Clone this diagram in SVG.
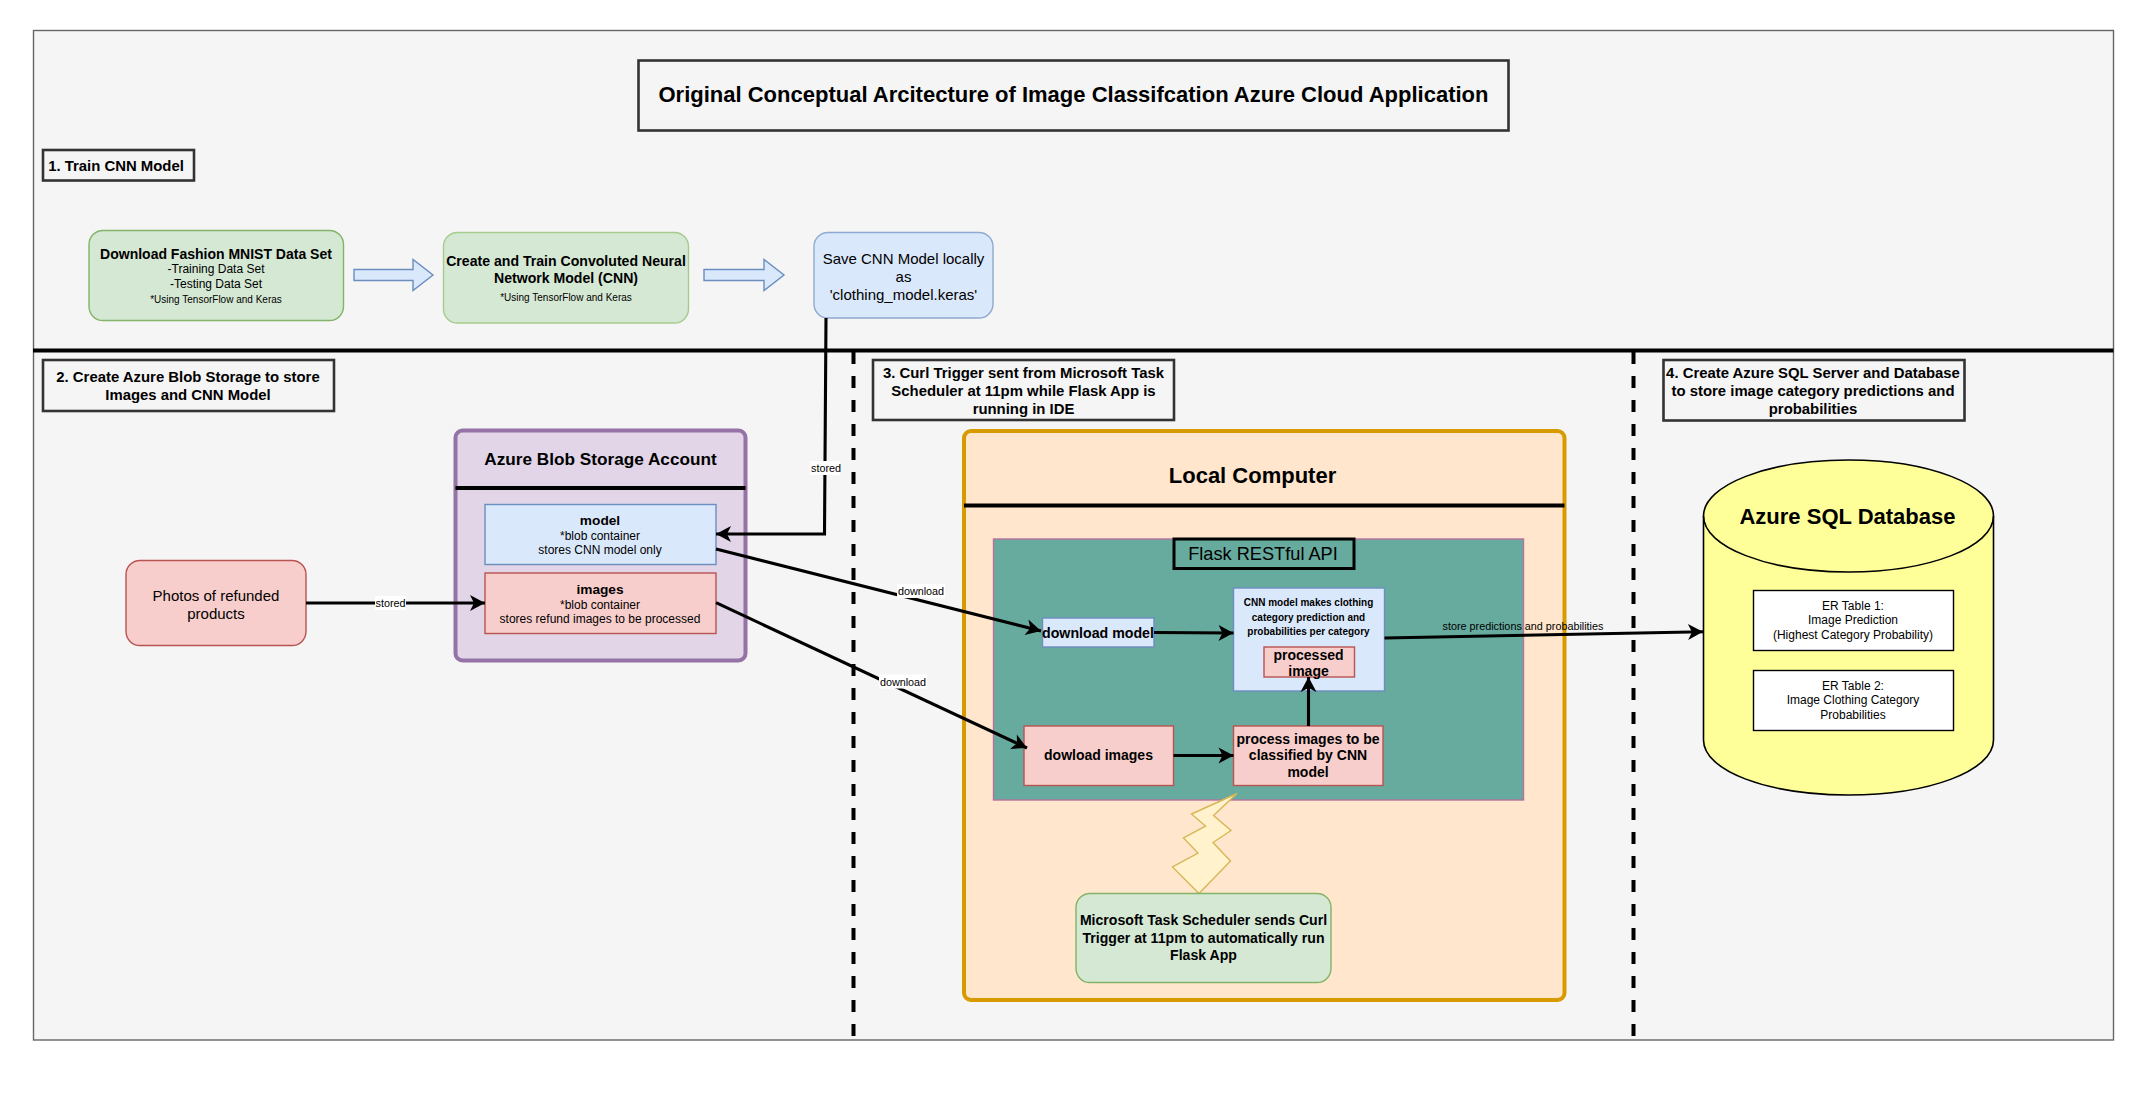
<svg xmlns="http://www.w3.org/2000/svg" width="2146" height="1111" viewBox="0 0 2146 1111">
<style>
text{font-family:"Liberation Sans",Arial,sans-serif;fill:#000;text-anchor:middle;dominant-baseline:central}
.b{font-weight:bold}
.sec{font-size:14.9px;font-weight:bold}
.hd{fill:#f5f5f5;stroke:#333;stroke-width:2.6}
.g{fill:#d5e8d4;stroke:#82b366;stroke-width:1.4}
.bl{fill:#dae8fc;stroke:#6c8ebf;stroke-width:1.4}
.r{fill:#f8cecc;stroke:#b85450;stroke-width:1.4}
.ln{fill:none;stroke:#000;stroke-width:3.100}
.arr{marker-end:url(#ah)}
.div{fill:none;stroke:#000;stroke-width:4}
.dash{fill:none;stroke:#000;stroke-width:4;stroke-dasharray:12 12}
.lbl{font-size:10.8px}
.s10{font-size:10px}
.s12{font-size:12px}
.w{fill:#fff;stroke:#000;stroke-width:1.4}
</style>
<defs>
<marker id="ah" markerUnits="userSpaceOnUse" markerWidth="18" markerHeight="20" refX="15" refY="8" orient="auto" overflow="visible"><path d="M0 0L15 8L0 16L4 8Z" fill="#000"/></marker>
</defs>
<g id="panel">
<rect x="33.500" y="30.500" width="2080" height="1009.500" fill="#f5f5f5" stroke="#666" stroke-width="1.400"/>
</g>
<g id="title"><rect class="hd" x="638.500" y="60.500" width="870" height="70"/><text class="b" x="1073.500" y="94.500" font-size="22">Original Conceptual Arcitecture of Image Classifcation Azure Cloud Application</text></g>
<g id="sec1"><rect class="hd" x="43" y="150" width="151" height="30.500"/><text class="sec" x="116" y="165.500">1. Train CNN Model</text></g>
<g id="download-data"><rect class="g" x="89" y="230.500" width="254.500" height="90" rx="14"/>
<text class="b" x="216" y="254" font-size="14">Download Fashion MNIST Data Set</text>
<text class="s12" x="216" y="268.500">-Training Data Set</text>
<text class="s12" x="216" y="283.500">-Testing Data Set</text>
<text class="s10" x="216" y="299">*Using TensorFlow and Keras</text></g>
<g id="train-model"><rect x="443.500" y="232.500" width="245" height="90.500" rx="14" fill="#d5e8d4" stroke="#a6cb8f" stroke-width="1.400"/>
<text class="b" x="566" y="261" font-size="14.100">Create and Train Convoluted Neural</text>
<text class="b" x="566" y="278" font-size="14.100">Network Model (CNN)</text>
<text class="s10" x="566" y="297">*Using TensorFlow and Keras</text></g>
<g id="save-model"><rect x="814" y="232.500" width="179" height="85.500" rx="14" fill="#dae8fc" stroke="#8fa9d0" stroke-width="1.400"/>
<text x="903.500" y="258" font-size="15">Save CNN Model locally</text>
<text x="903.500" y="276" font-size="15">as</text>
<text x="903.500" y="294.500" font-size="15">'clothing_model.keras'</text></g>
<g id="arrow-a"><path class="bl" d="M354 269.500H413V259.500L433 275L413 290.500V280.500H354Z"/></g>
<g id="arrow-b"><path class="bl" d="M704 269.500H764V259.500L784 275L764 290.500V280.500H704Z"/></g>
<g id="sec2"><rect class="hd" x="43" y="360" width="291" height="51"/><text class="sec" x="188" y="377">2. Create Azure Blob Storage to store</text><text class="sec" x="188" y="395">Images and CNN Model</text></g>
<g id="sec3"><rect class="hd" x="873" y="360" width="301" height="60"/><text class="sec" x="1023.500" y="372.500">3. Curl Trigger sent from Microsoft Task</text><text class="sec" x="1023.500" y="391">Scheduler at 11pm while Flask App is</text><text class="sec" x="1023.500" y="409">running in IDE</text></g>
<g id="sec4"><rect class="hd" x="1663.500" y="360" width="301" height="60.500"/><text class="sec" x="1813" y="372.500">4. Create Azure SQL Server and Database</text><text class="sec" x="1813" y="391">to store image category predictions and</text><text class="sec" x="1813" y="409">probabilities</text></g>
<g id="blob-account"><rect x="455.500" y="430.500" width="290" height="230" rx="7" fill="#e1d5e7" stroke="#9673a6" stroke-width="4"/><path class="div" d="M455.500 488H745.500"/><text class="b" x="600.500" y="459" font-size="17.200">Azure Blob Storage Account</text></g>
<g id="model"><rect class="bl" x="485" y="504.500" width="231" height="60"/>
<text class="b" x="600" y="520.500" font-size="13.700">model</text><text class="s12" x="600" y="535.500">*blob container</text><text class="s12" x="600" y="549.500">stores CNN model only</text></g>
<g id="images"><rect class="r" x="485" y="573" width="231" height="60.500"/>
<text class="b" x="600" y="589.500" font-size="13.700">images</text><text class="s12" x="600" y="605">*blob container</text><text class="s12" x="600" y="619">stores refund images to be processed</text></g>
<g id="photos"><rect class="r" x="126" y="560.500" width="180" height="85" rx="14"/><text x="216" y="595" font-size="15">Photos of refunded</text><text x="216" y="613.500" font-size="15">products</text></g>
<g id="local-computer"><rect x="964" y="431" width="600.500" height="569" rx="7" fill="#ffe6cc" stroke="#d79b00" stroke-width="4"/><path class="div" d="M964 505.500H1564.500"/><text class="b" x="1252.500" y="475" font-size="22">Local Computer</text></g>
<g id="flask"><rect x="993.500" y="539" width="530" height="261" fill="#67ab9f" stroke="#b5739d" stroke-width="1.400"/><rect x="1174" y="539" width="180" height="29.500" fill="none" stroke="#000" stroke-width="3"/><text x="1263" y="553.500" font-size="18.200">Flask RESTful API</text></g>
<g id="download-model"><rect class="bl" x="1042.500" y="618" width="111.500" height="29"/><text class="b" x="1098" y="632.500" font-size="14.200">download model</text></g>
<g id="cnn"><rect class="bl" x="1233.500" y="588" width="151" height="103"/>
<text class="b s10" x="1308.500" y="602.500">CNN model makes clothing</text><text class="b s10" x="1308.500" y="617">category prediction and</text><text class="b s10" x="1308.500" y="631.500">probabilities per category</text></g>
<g id="processed"><rect class="r" x="1264" y="647" width="90.500" height="30"/><text class="b" x="1308.500" y="654.500" font-size="14">processed</text><text class="b" x="1308.500" y="671" font-size="14">image</text></g>
<g id="dowload-images"><rect class="r" x="1024" y="726" width="149.500" height="59.500"/><text class="b" x="1098.500" y="755" font-size="14">dowload images</text></g>
<g id="process-images"><rect class="r" x="1233.500" y="726" width="149.500" height="59.500"/><text class="b" x="1308" y="738.500" font-size="14">process images to be</text><text class="b" x="1308" y="755" font-size="14">classified by CNN</text><text class="b" x="1308" y="772" font-size="14">model</text></g>
<g id="trigger-bolt"><path d="M1237 793.500L1191.500 814L1205.500 826L1183.500 838L1198 853L1172.500 867L1199 893.500L1230.500 861L1213 842.500L1231 830.500L1213.500 815.500Z" fill="#fff2cc" stroke="#d6b656" stroke-width="1.400"/></g>
<g id="scheduler"><rect class="g" x="1076" y="893.500" width="255" height="89" rx="14"/>
<text class="b" x="1203.500" y="920" font-size="14.100">Microsoft Task Scheduler sends Curl</text><text class="b" x="1203.500" y="937.500" font-size="14.100">Trigger at 11pm to automatically run</text><text class="b" x="1203.500" y="954.500" font-size="14.100">Flask App</text></g>
<g id="sql-db"><path d="M1703.500 516C1703.500 485 1768 460 1848.500 460C1929 460 1993.500 485 1993.500 516V740C1993.500 771 1929 795 1848.500 795C1768 795 1703.500 771 1703.500 740Z" fill="#ffff99" stroke="#000" stroke-width="1.600"/><path d="M1703.500 516C1703.500 547 1768 572 1848.500 572C1929 572 1993.500 547 1993.500 516" fill="none" stroke="#000" stroke-width="1.600"/><text class="b" x="1847.500" y="516.500" font-size="22">Azure SQL Database</text></g>
<g id="er1"><rect class="w" x="1753.500" y="590.500" width="200" height="60"/><text class="s12" x="1853" y="605.500">ER Table 1:</text><text class="s12" x="1853" y="619.500">Image Prediction</text><text class="s12" x="1853" y="634.500">(Highest Category Probability)</text></g>
<g id="er2"><rect class="w" x="1753.500" y="670.500" width="200" height="60"/><text class="s12" x="1853" y="685.500">ER Table 2:</text><text class="s12" x="1853" y="699.500">Image Clothing Category</text><text class="s12" x="1853" y="714.500">Probabilities</text></g>
<g id="connectors">
<path class="div" d="M33 350.500H2113.500"/>
<path class="dash" d="M853.500 352V1040"/>
<path class="dash" d="M1633.500 352V1040"/>
<path class="ln arr" d="M826 318L824.500 534H716"/>
<path class="ln arr" d="M306 603H485"/>
<path class="ln arr" d="M716 549L1041 631"/>
<path class="ln arr" d="M716 602.700L1027 748"/>
<path class="ln arr" d="M1154 632.500L1233.500 633"/>
<path class="ln arr" d="M1173.500 755.500H1233.500"/>
<path class="ln arr" d="M1308.500 726V677"/>
<path class="ln arr" d="M1384.500 638L1703 631.700"/>
<g>
<rect x="810" y="461" width="30" height="14" fill="#fff"/><text class="lbl" x="826" y="468">stored</text>
<rect x="375" y="596" width="31" height="14" fill="#fff"/><text class="lbl" x="390.500" y="603">stored</text>
<rect x="897" y="584" width="48" height="14" fill="#fff"/><text class="lbl" x="921" y="591">download</text>
<rect x="879" y="674.500" width="48" height="14" fill="#fff"/><text class="lbl" x="903" y="681.500">download</text>
<text class="lbl" x="1523" y="625.500">store predictions and probabilities</text>
</g>
</g>
</svg>
